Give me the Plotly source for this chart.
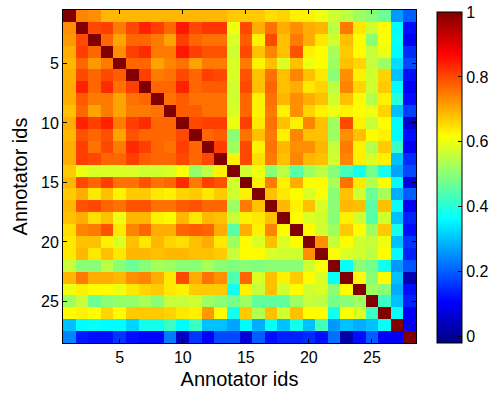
import plotly.graph_objects as go

annotator_ids = list(range(1, 29))
tick_values = [5, 10, 15, 20, 25]
colorbar_ticks = [0, 0.2, 0.4, 0.6, 0.8, 1]

row01 = [1.00, 0.74, 0.73, 0.69, 0.69, 0.69, 0.69, 0.69, 0.69, 0.69, 0.69, 0.69, 0.69, 0.67, 0.67, 0.67, 0.65, 0.66, 0.63, 0.63, 0.60, 0.57, 0.55, 0.52, 0.50, 0.47, 0.26, 0.20]
row02 = [0.73, 1.00, 0.80, 0.81, 0.75, 0.80, 0.84, 0.81, 0.77, 0.85, 0.80, 0.82, 0.82, 0.60, 0.80, 0.70, 0.76, 0.70, 0.73, 0.70, 0.69, 0.55, 0.75, 0.64, 0.57, 0.62, 0.36, 0.12]
row03 = [0.72, 0.80, 1.00, 0.77, 0.71, 0.77, 0.77, 0.75, 0.71, 0.81, 0.77, 0.76, 0.76, 0.58, 0.78, 0.63, 0.80, 0.68, 0.75, 0.70, 0.64, 0.57, 0.68, 0.62, 0.50, 0.61, 0.37, 0.10]
row04 = [0.70, 0.81, 0.77, 1.00, 0.73, 0.81, 0.83, 0.75, 0.75, 0.85, 0.81, 0.79, 0.79, 0.57, 0.80, 0.68, 0.74, 0.68, 0.79, 0.63, 0.62, 0.53, 0.67, 0.62, 0.56, 0.60, 0.36, 0.15]
row05 = [0.69, 0.77, 0.72, 0.75, 1.00, 0.77, 0.77, 0.71, 0.74, 0.76, 0.71, 0.75, 0.75, 0.58, 0.75, 0.63, 0.68, 0.58, 0.68, 0.60, 0.62, 0.52, 0.68, 0.66, 0.56, 0.52, 0.33, 0.18]
row06 = [0.70, 0.80, 0.77, 0.80, 0.78, 1.00, 0.81, 0.75, 0.76, 0.80, 0.77, 0.81, 0.80, 0.58, 0.79, 0.68, 0.76, 0.68, 0.74, 0.68, 0.64, 0.50, 0.73, 0.63, 0.57, 0.66, 0.30, 0.12]
row07 = [0.70, 0.84, 0.77, 0.83, 0.76, 0.81, 1.00, 0.77, 0.77, 0.84, 0.77, 0.78, 0.78, 0.57, 0.80, 0.68, 0.77, 0.68, 0.70, 0.64, 0.66, 0.55, 0.74, 0.66, 0.57, 0.67, 0.36, 0.10]
row08 = [0.70, 0.78, 0.75, 0.75, 0.71, 0.76, 0.77, 1.00, 0.76, 0.78, 0.76, 0.76, 0.76, 0.57, 0.77, 0.63, 0.76, 0.69, 0.73, 0.70, 0.68, 0.57, 0.68, 0.62, 0.54, 0.63, 0.40, 0.12]
row09 = [0.68, 0.77, 0.71, 0.75, 0.71, 0.75, 0.75, 0.76, 1.00, 0.78, 0.78, 0.76, 0.76, 0.58, 0.77, 0.63, 0.75, 0.63, 0.73, 0.66, 0.63, 0.60, 0.63, 0.62, 0.60, 0.66, 0.30, 0.17]
row10 = [0.70, 0.84, 0.81, 0.84, 0.75, 0.81, 0.83, 0.77, 0.77, 1.00, 0.80, 0.81, 0.81, 0.60, 0.81, 0.64, 0.76, 0.68, 0.63, 0.74, 0.68, 0.52, 0.80, 0.63, 0.56, 0.62, 0.36, 0.06]
row11 = [0.69, 0.79, 0.77, 0.79, 0.71, 0.79, 0.77, 0.77, 0.77, 0.80, 1.00, 0.77, 0.78, 0.50, 0.76, 0.68, 0.75, 0.63, 0.74, 0.68, 0.68, 0.52, 0.73, 0.68, 0.62, 0.63, 0.36, 0.12]
row12 = [0.70, 0.81, 0.76, 0.80, 0.75, 0.83, 0.81, 0.77, 0.76, 0.81, 0.77, 1.00, 0.81, 0.52, 0.80, 0.63, 0.76, 0.69, 0.73, 0.73, 0.69, 0.56, 0.75, 0.63, 0.54, 0.67, 0.42, 0.10]
row13 = [0.70, 0.81, 0.80, 0.77, 0.77, 0.81, 0.78, 0.77, 0.77, 0.80, 0.77, 0.80, 1.00, 0.63, 0.80, 0.65, 0.75, 0.68, 0.74, 0.69, 0.68, 0.57, 0.74, 0.63, 0.58, 0.63, 0.30, 0.15]
row14 = [0.67, 0.60, 0.58, 0.58, 0.58, 0.58, 0.57, 0.57, 0.58, 0.61, 0.51, 0.55, 0.63, 1.00, 0.57, 0.60, 0.50, 0.55, 0.45, 0.52, 0.55, 0.50, 0.43, 0.38, 0.48, 0.38, 0.27, 0.18]
row15 = [0.69, 0.80, 0.77, 0.81, 0.76, 0.76, 0.79, 0.76, 0.77, 0.83, 0.75, 0.81, 0.79, 0.57, 1.00, 0.63, 0.75, 0.63, 0.70, 0.62, 0.62, 0.53, 0.76, 0.64, 0.54, 0.62, 0.36, 0.08]
row16 = [0.67, 0.70, 0.64, 0.68, 0.63, 0.67, 0.67, 0.64, 0.63, 0.66, 0.67, 0.64, 0.67, 0.57, 0.63, 1.00, 0.68, 0.64, 0.62, 0.58, 0.61, 0.50, 0.68, 0.57, 0.47, 0.53, 0.28, 0.20]
row17 = [0.69, 0.79, 0.80, 0.77, 0.76, 0.79, 0.79, 0.76, 0.76, 0.78, 0.79, 0.77, 0.77, 0.52, 0.75, 0.68, 1.00, 0.69, 0.63, 0.68, 0.58, 0.50, 0.69, 0.68, 0.45, 0.68, 0.37, 0.10]
row18 = [0.68, 0.70, 0.65, 0.68, 0.60, 0.69, 0.69, 0.63, 0.62, 0.69, 0.64, 0.69, 0.68, 0.56, 0.63, 0.64, 0.68, 1.00, 0.62, 0.58, 0.57, 0.50, 0.63, 0.57, 0.45, 0.57, 0.30, 0.14]
row19 = [0.65, 0.74, 0.75, 0.79, 0.64, 0.74, 0.77, 0.70, 0.70, 0.77, 0.78, 0.77, 0.70, 0.45, 0.70, 0.63, 0.74, 0.62, 1.00, 0.62, 0.57, 0.52, 0.67, 0.62, 0.52, 0.67, 0.38, 0.12]
row20 = [0.64, 0.68, 0.68, 0.63, 0.58, 0.68, 0.64, 0.69, 0.66, 0.65, 0.68, 0.70, 0.64, 0.52, 0.62, 0.58, 0.68, 0.58, 0.62, 1.00, 0.73, 0.56, 0.62, 0.57, 0.56, 0.60, 0.30, 0.16]
row21 = [0.64, 0.69, 0.64, 0.68, 0.64, 0.69, 0.69, 0.68, 0.69, 0.69, 0.68, 0.68, 0.67, 0.56, 0.62, 0.62, 0.58, 0.57, 0.57, 0.73, 1.00, 0.62, 0.58, 0.57, 0.55, 0.62, 0.36, 0.14]
row22 = [0.56, 0.50, 0.50, 0.55, 0.50, 0.47, 0.50, 0.53, 0.52, 0.50, 0.50, 0.53, 0.50, 0.49, 0.50, 0.49, 0.50, 0.50, 0.50, 0.57, 0.61, 1.00, 0.37, 0.50, 0.48, 0.38, 0.26, 0.19]
row23 = [0.69, 0.75, 0.70, 0.70, 0.69, 0.73, 0.74, 0.70, 0.64, 0.80, 0.70, 0.76, 0.73, 0.44, 0.77, 0.58, 0.68, 0.63, 0.67, 0.62, 0.58, 0.37, 1.00, 0.62, 0.50, 0.62, 0.30, 0.03]
row24 = [0.60, 0.63, 0.62, 0.62, 0.60, 0.64, 0.66, 0.67, 0.64, 0.63, 0.67, 0.67, 0.67, 0.38, 0.63, 0.56, 0.68, 0.57, 0.62, 0.57, 0.58, 0.50, 0.62, 1.00, 0.52, 0.50, 0.28, 0.12]
row25 = [0.52, 0.56, 0.47, 0.50, 0.51, 0.51, 0.53, 0.50, 0.56, 0.56, 0.57, 0.52, 0.50, 0.48, 0.52, 0.46, 0.46, 0.46, 0.52, 0.56, 0.55, 0.48, 0.50, 0.52, 1.00, 0.42, 0.30, 0.14]
row26 = [0.62, 0.63, 0.62, 0.66, 0.62, 0.67, 0.67, 0.67, 0.66, 0.64, 0.63, 0.72, 0.62, 0.38, 0.67, 0.54, 0.68, 0.57, 0.68, 0.62, 0.62, 0.38, 0.61, 0.58, 0.42, 1.00, 0.37, 0.10]
row27 = [0.30, 0.36, 0.37, 0.36, 0.36, 0.32, 0.38, 0.38, 0.42, 0.36, 0.42, 0.30, 0.30, 0.27, 0.36, 0.28, 0.37, 0.30, 0.38, 0.30, 0.43, 0.26, 0.30, 0.28, 0.30, 0.37, 1.00, 0.10]
row28 = [0.24, 0.13, 0.12, 0.12, 0.16, 0.12, 0.11, 0.11, 0.23, 0.05, 0.16, 0.10, 0.18, 0.18, 0.07, 0.20, 0.12, 0.14, 0.14, 0.15, 0.12, 0.22, 0.02, 0.12, 0.20, 0.10, 0.10, 1.00]

agreement = [row01, row02, row03, row04, row05, row06, row07, row08, row09, row10,
             row11, row12, row13, row14, row15, row16, row17, row18, row19, row20,
             row21, row22, row23, row24, row25, row26, row27, row28]

jet = [[0.0, "rgb(0,0,128)"], [0.125, "rgb(0,0,255)"], [0.375, "rgb(0,255,255)"],
       [0.625, "rgb(255,255,0)"], [0.875, "rgb(255,0,0)"], [1.0, "rgb(128,0,0)"]]

FONT = "Liberation Sans, Arial, Helvetica, sans-serif"
W, H = 492, 396
L, R, T, B = 63, 76, 10, 53
plot_h = H - T - B
plot_w = W - L - R

fig = go.Figure(go.Heatmap(
    z=agreement, x=annotator_ids, y=annotator_ids,
    colorscale=jet, zmin=-0.02, zmax=1.0,
    colorbar=dict(
        thickness=25, thicknessmode="pixels",
        len=331, lenmode="pixels",
        x=(437 - L) / plot_w, xanchor="left",
        y=1 - (177.5 - T) / plot_h, yanchor="middle",
        outlinecolor="black", outlinewidth=1,
        tickvals=colorbar_ticks, ticktext=["0", "0.2", "0.4", "0.6", "0.8", "1"],
        ticks="inside", ticklen=4, tickcolor="black",
        tickfont=dict(family=FONT, size=16, color="black"),
        xpad=0, ypad=0,
    ),
))

axis_common = dict(
    showline=True, linecolor="black", linewidth=1, mirror="ticks",
    ticks="inside", ticklen=4, tickcolor="black", showgrid=False, zeroline=False,
    tickfont=dict(family=FONT, size=16, color="black"),
    tickvals=tick_values,
)

fig.update_layout(
    width=W, height=H,
    margin=dict(l=L, r=R, t=T, b=B, pad=0, autoexpand=False),
    paper_bgcolor="white", plot_bgcolor="white",
    xaxis=dict(range=[0.5, 28.5], title=dict(text="Annotator ids", standoff=6,
               font=dict(family=FONT, size=20, color="black")), **axis_common),
    yaxis=dict(range=[28.5, 0.5], title=dict(text="Annotator ids", standoff=8,
               font=dict(family=FONT, size=20, color="black")), **axis_common),
)

fig.write_html("out.html")
